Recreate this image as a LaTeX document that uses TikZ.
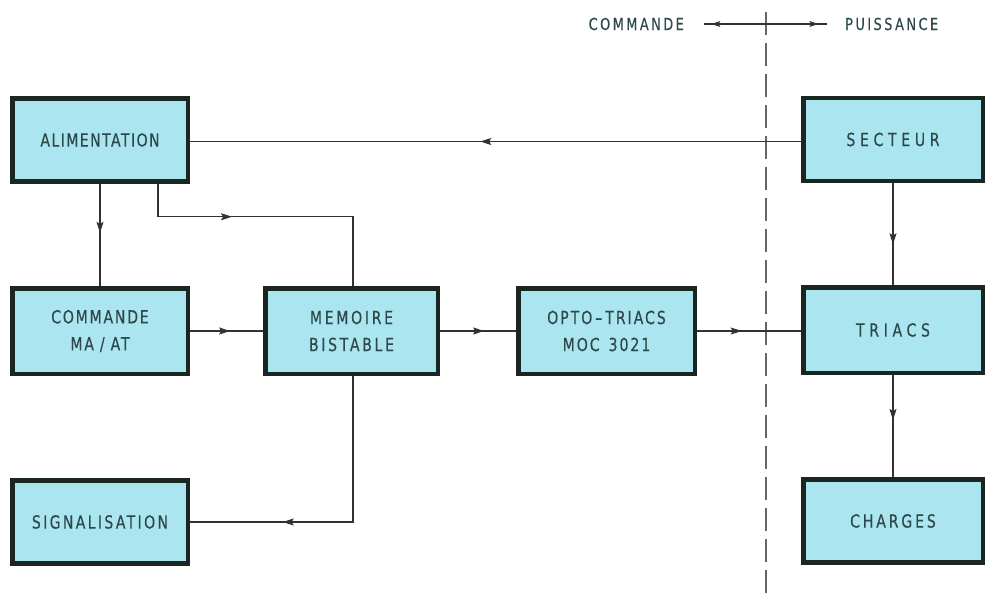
\documentclass[tikz,border=0pt]{standalone}
\usepackage{fontspec}
\usetikzlibrary{arrows.meta,decorations.markings}
\newfontfamily\diagfont[FakeStretch=0.78,LetterSpace=9,FakeBold=0.4]{DejaVu Sans}
\definecolor{boxfill}{RGB}{171,229,240}
\definecolor{boxline}{RGB}{26,38,32}
\definecolor{txt}{RGB}{45,72,74}
\definecolor{wire}{RGB}{50,50,50}
\tikzset{
  blockbox/.style={draw=boxline, fill=boxfill, line width=4.5pt, rectangle,
    minimum width=175.5pt, minimum height=83pt, inner sep=0pt,
    align=center, text=txt, font=\diagfont\fontsize{18}{27}\selectfont},
  spaced/.style={font=\diagfont\fontsize{18}{27}\selectfont\addfontfeature{LetterSpace=#1}},
  rightbox/.style={blockbox, minimum width=179.5pt},
  wireline/.style={draw=wire, line width=1.1pt},
  midarrow/.style={postaction={decorate, decoration={markings,
    mark=at position #1 with {\arrow{Stealth[length=11pt,width=7pt,inset=2pt]}}}}},
  legendtext/.style={text=txt, font=\diagfont\fontsize{16.5}{20}\selectfont\addfontfeature{LetterSpace=15}, inner sep=0pt}
}
\begin{document}
\begin{tikzpicture}[x=1pt,y=-1pt]
\useasboundingbox (0,0) rectangle (988,599);
% blocks
\node[blockbox, spaced=8] (alim) at (100,140) {ALIMENTATION};
\node[rightbox, spaced=26] (secteur) at (893,139.5) {SECTEUR};
\node[blockbox, minimum height=85.5pt, spaced=10] (cmd) at (100,331) {COMMANDE\\MA\,\,/\,\,AT};
\node[blockbox, minimum width=172.5pt, minimum height=85.5pt, spaced=15] (mem) at (351.5,331) {MEMOIRE\\BISTABLE};
\node[blockbox, minimum width=176.5pt, minimum height=85.5pt, spaced=11] (opto) at (606.5,331) {OPTO\,–\,TRIACS\\MOC\,\,\,3021};
\node[rightbox, minimum height=85.5pt, spaced=26] (triacs) at (893,330) {TRIACS};
\node[blockbox, spaced=13] (signal) at (100,522) {SIGNALISATION};
\node[rightbox, spaced=16] (charges) at (893,521) {CHARGES};
% separation line
\coordinate (septop) at (766,12);
\coordinate (sepbot) at (766,599);
\draw[draw=black!60, line width=1.1pt, dash pattern=on 23pt off 8pt] (septop) -- (sepbot);
% legend
\node[legendtext, anchor=east] (lcmd) at (684,24) {COMMANDE};
\node[legendtext, anchor=west] (lpui) at (845,24) {PUISSANCE};
\coordinate (la) at (704,24);
\coordinate (lb) at (827,24);
\draw[wireline,
  postaction={decorate, decoration={markings,
    mark=at position 0.06 with {\arrowreversed{Stealth[length=9pt,width=6pt,inset=2pt]}},
    mark=at position 0.93 with {\arrow{Stealth[length=9pt,width=6pt,inset=2pt]}}}}] (la) -- (lb);
% connectors
\draw[wireline, midarrow=0.525] ([yshift=-2pt]secteur.west) -- ([yshift=-2pt]secteur.west -| alim.east);
\draw[wireline, midarrow=0.48] (alim.south) -- (cmd.north);
\draw[wireline, midarrow=0.36] ([xshift=58pt]alim.south) -- ++(0,33) -| ([xshift=1.5pt]mem.north);
\draw[wireline, midarrow=0.55] (cmd.east) -- (mem.west);
\draw[wireline, midarrow=0.58] (mem.east) -- (opto.west);
\draw[wireline, midarrow=0.43] (opto.east) -- (opto.east -| triacs.west);
\draw[wireline, midarrow=0.6] (secteur.south) -- (triacs.north);
\draw[wireline, midarrow=0.44] (triacs.south) -- (charges.north);
\draw[wireline, midarrow=0.70] ([xshift=1.5pt]mem.south) |- (signal.east);
\end{tikzpicture}
\end{document}
